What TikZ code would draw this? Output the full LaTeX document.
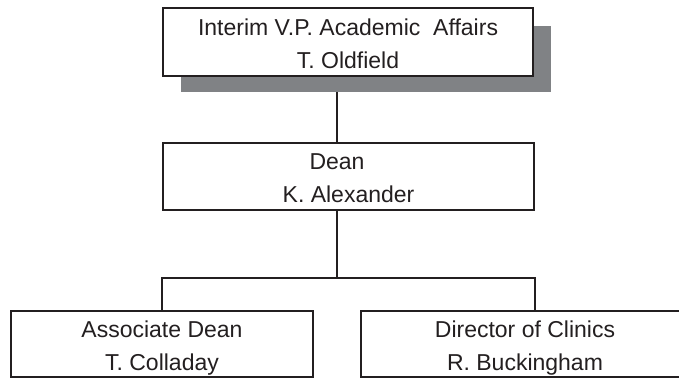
\documentclass[tikz,border=0pt]{standalone}
\usepackage{fontspec}
\setmainfont{Liberation Sans}
\definecolor{ink}{HTML}{231F20}
\definecolor{shade}{HTML}{808285}
\begin{document}
\begin{tikzpicture}[x=1pt,y=-1pt,
  orgbox/.style={draw=ink, line width=2pt, fill=white, rectangle, inner sep=0pt,
    align=center, text=ink, font=\fontsize{23}{33}\selectfont,
    text height=52pt, text depth=0pt},
  shadowbox/.style={fill=shade, draw=none, rectangle, inner sep=0pt},
  link/.style={draw=ink, line width=2pt}]
\clip (0,0) rectangle (679,378);
\coordinate (trunk) at (337,0);
\coordinate (bar) at (0,278);
% shadow of the top box
\node[shadowbox, minimum width=370pt, minimum height=66pt] (vpshadow) at (366,59) {};
% boxes
\node[orgbox, minimum width=370pt, minimum height=68pt] (vp) at (348,42)
  {Interim V.P. Academic\ \ Affairs\\T. Oldfield};
\node[orgbox, minimum width=371pt, minimum height=67pt] (dean) at (348.5,176.5)
  {Dean\hspace*{23pt}\\K. Alexander};
\node[orgbox, minimum width=302pt, minimum height=66pt] (assoc) at (162,344)
  {Associate Dean\\T. Colladay};
\node[orgbox, minimum width=328pt, minimum height=66pt] (clin) at (525,344)
  {Director of Clinics\\R. Buckingham};
% connectors
\draw[link] (vpshadow.south -| trunk) -- (dean.north -| trunk);
\draw[link] (dean.south -| trunk) -- (trunk |- bar);
\draw[link] (assoc.north -| dean.west) -- (dean.west |- bar) -- (dean.east |- bar) -- (clin.north -| dean.east);
\end{tikzpicture}
\end{document}
